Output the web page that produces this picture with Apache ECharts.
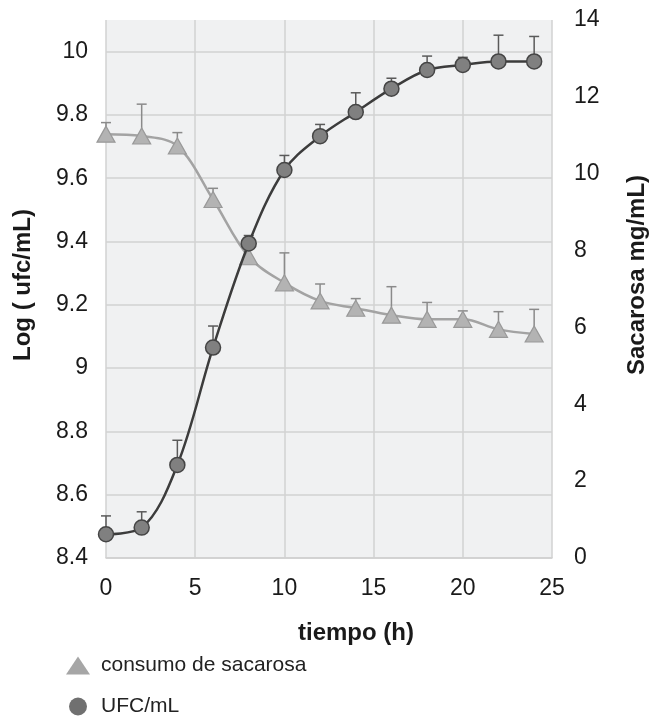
<!DOCTYPE html>
<html>
<head>
<meta charset="utf-8">
<script src="https://cdn.jsdelivr.net/npm/echarts@6/dist/echarts.min.js"></script>
<style>html,body{margin:0;padding:0;background:#fff}#c{width:658px;height:720px}</style>
</head>
<body>
<div id="c"></div>
<script>
const tiempo = [0, 2, 4, 6, 8, 10, 12, 14, 16, 18, 20, 22, 24];
const ufc = [8.475, 8.496, 8.694, 9.065, 9.394, 9.626, 9.733, 9.809, 9.883, 9.942, 9.958, 9.969, 9.969];
const ufcErr = [0.058, 0.05, 0.078, 0.068, 0.025, 0.046, 0.037, 0.061, 0.033, 0.044, 0.024, 0.083, 0.079];
const sacarosa = [11.03, 10.98, 10.72, 9.33, 7.84, 7.16, 6.69, 6.50, 6.32, 6.21, 6.21, 5.95, 5.83];
const sacErr = [0.30, 0.83, 0.35, 0.29, 0.30, 0.78, 0.44, 0.25, 0.74, 0.44, 0.22, 0.46, 0.64];
const xTicks = [0, 5, 10, 15, 20, 25];
const leftTicks = [8.4, 8.6, 8.8, 9, 9.2, 9.4, 9.6, 9.8, 10];
const rightTicks = [0, 2, 4, 6, 8, 10, 12, 14];
const nameSac = 'consumo de sacarosa';
const nameUfc = 'UFC/mL';

const font = 'Liberation Sans, Arial, sans-serif';
const chart = echarts.init(document.getElementById('c'), null, {renderer: 'canvas'});

function errSeries(name, vals, errs, axis, color) {
  return {
    type: 'custom',
    name: name + '_err',
    yAxisIndex: axis,
    z: 1,
    silent: true,
    data: tiempo.map((t, i) => [t, vals[i], errs[i]]),
    renderItem: function (params, api) {
      const p0 = api.coord([api.value(0), api.value(1)]);
      const p1 = api.coord([api.value(0), api.value(1) + api.value(2)]);
      const st = {stroke: color, lineWidth: 1.5};
      return {type: 'group', children: [
        {type: 'line', shape: {x1: p0[0], y1: p0[1], x2: p1[0], y2: p1[1]}, style: st},
        {type: 'line', shape: {x1: p1[0] - 5, y1: p1[1], x2: p1[0] + 5, y2: p1[1]}, style: st}
      ]};
    }
  };
}

const option = {
  animation: false,
  backgroundColor: '#ffffff',
  textStyle: {fontFamily: font},
  grid: {left: 106, right: 106, top: 20, bottom: 162, show: true, backgroundColor: '#f0f1f2', borderWidth: 0},
  legend: {
    orient: 'vertical', left: 66, top: 655, padding: 0, height: 65, itemGap: 20,
    itemWidth: 24, itemHeight: 18,
    textStyle: {fontSize: 21, color: '#222', fontFamily: font, padding: [0, 0, 0, 6]},
    data: [{name: nameSac, icon: 'triangle', itemStyle: {color: '#a6a6a6', borderWidth: 0}},
           {name: nameUfc, icon: 'circle', itemStyle: {color: '#707070', borderWidth: 0}}]
  },
  xAxis: {
    type: 'value', min: xTicks[0], max: xTicks[xTicks.length - 1], interval: 5,
    name: 'tiempo (h)', nameLocation: 'middle', nameGap: 63,
    nameTextStyle: {fontSize: 24, fontWeight: 'bold', color: '#1a1a1a', padding: [0, 0, 0, 54]},
    axisLine: {show: true, lineStyle: {color: '#cfcfcf', width: 1.5}},
    axisTick: {show: false},
    axisLabel: {fontSize: 23, color: '#1a1a1a', margin: 19},
    splitLine: {show: true, lineStyle: {color: '#d2d2d2', width: 1.5}}
  },
  yAxis: [{
    type: 'value', min: leftTicks[0], max: 10.1, interval: 0.2,
    name: 'Log ( ufc/mL)', nameLocation: 'middle', nameGap: 71,
    nameTextStyle: {fontSize: 24, fontWeight: 'bold', color: '#1a1a1a', padding: [0, 0, 0, 8]},
    axisLine: {show: false}, axisTick: {show: false},
    axisLabel: {fontSize: 23, color: '#1a1a1a', margin: 18, showMaxLabel: false,
      formatter: v => leftTicks.some(t => Math.abs(t - v) < 1e-6) ? String(Math.round(v * 10) / 10) : ''},
    splitLine: {show: true, showMaxLine: false, lineStyle: {color: '#d2d2d2', width: 1.5}}
  }, {
    type: 'value', min: rightTicks[0], max: rightTicks[rightTicks.length - 1], interval: 2,
    position: 'right',
    name: 'Sacarosa mg/mL)', nameLocation: 'middle', nameGap: 73,
    nameTextStyle: {fontSize: 24, fontWeight: 'bold', color: '#1a1a1a', padding: [0, 0, 0, 28]},
    axisLine: {show: false}, axisTick: {show: false},
    axisLabel: {fontSize: 23, color: '#1a1a1a', margin: 22},
    splitLine: {show: false}
  }],
  series: [
    errSeries(nameSac, sacarosa, sacErr, 1, '#8a8a8a'),
    errSeries(nameUfc, ufc, ufcErr, 0, '#5a5a5a'),
    {
      type: 'line', name: nameSac, yAxisIndex: 1, z: 3,
      data: tiempo.map((t, i) => [t, sacarosa[i]]),
      smooth: 0.35,
      symbol: 'triangle', symbolSize: [18, 16],
      lineStyle: {color: '#a3a3a3', width: 2.5},
      itemStyle: {color: '#b3b3b3', borderColor: '#999999', borderWidth: 1.2}
    },
    {
      type: 'line', name: nameUfc, yAxisIndex: 0, z: 4,
      data: tiempo.map((t, i) => [t, ufc[i]]),
      smooth: 0.35,
      symbol: 'circle', symbolSize: 15,
      lineStyle: {color: '#3c3c3c', width: 2.5},
      itemStyle: {color: '#808080', borderColor: '#454545', borderWidth: 1.5}
    }
  ]
};
chart.setOption(option);
</script>
</body>
</html>
